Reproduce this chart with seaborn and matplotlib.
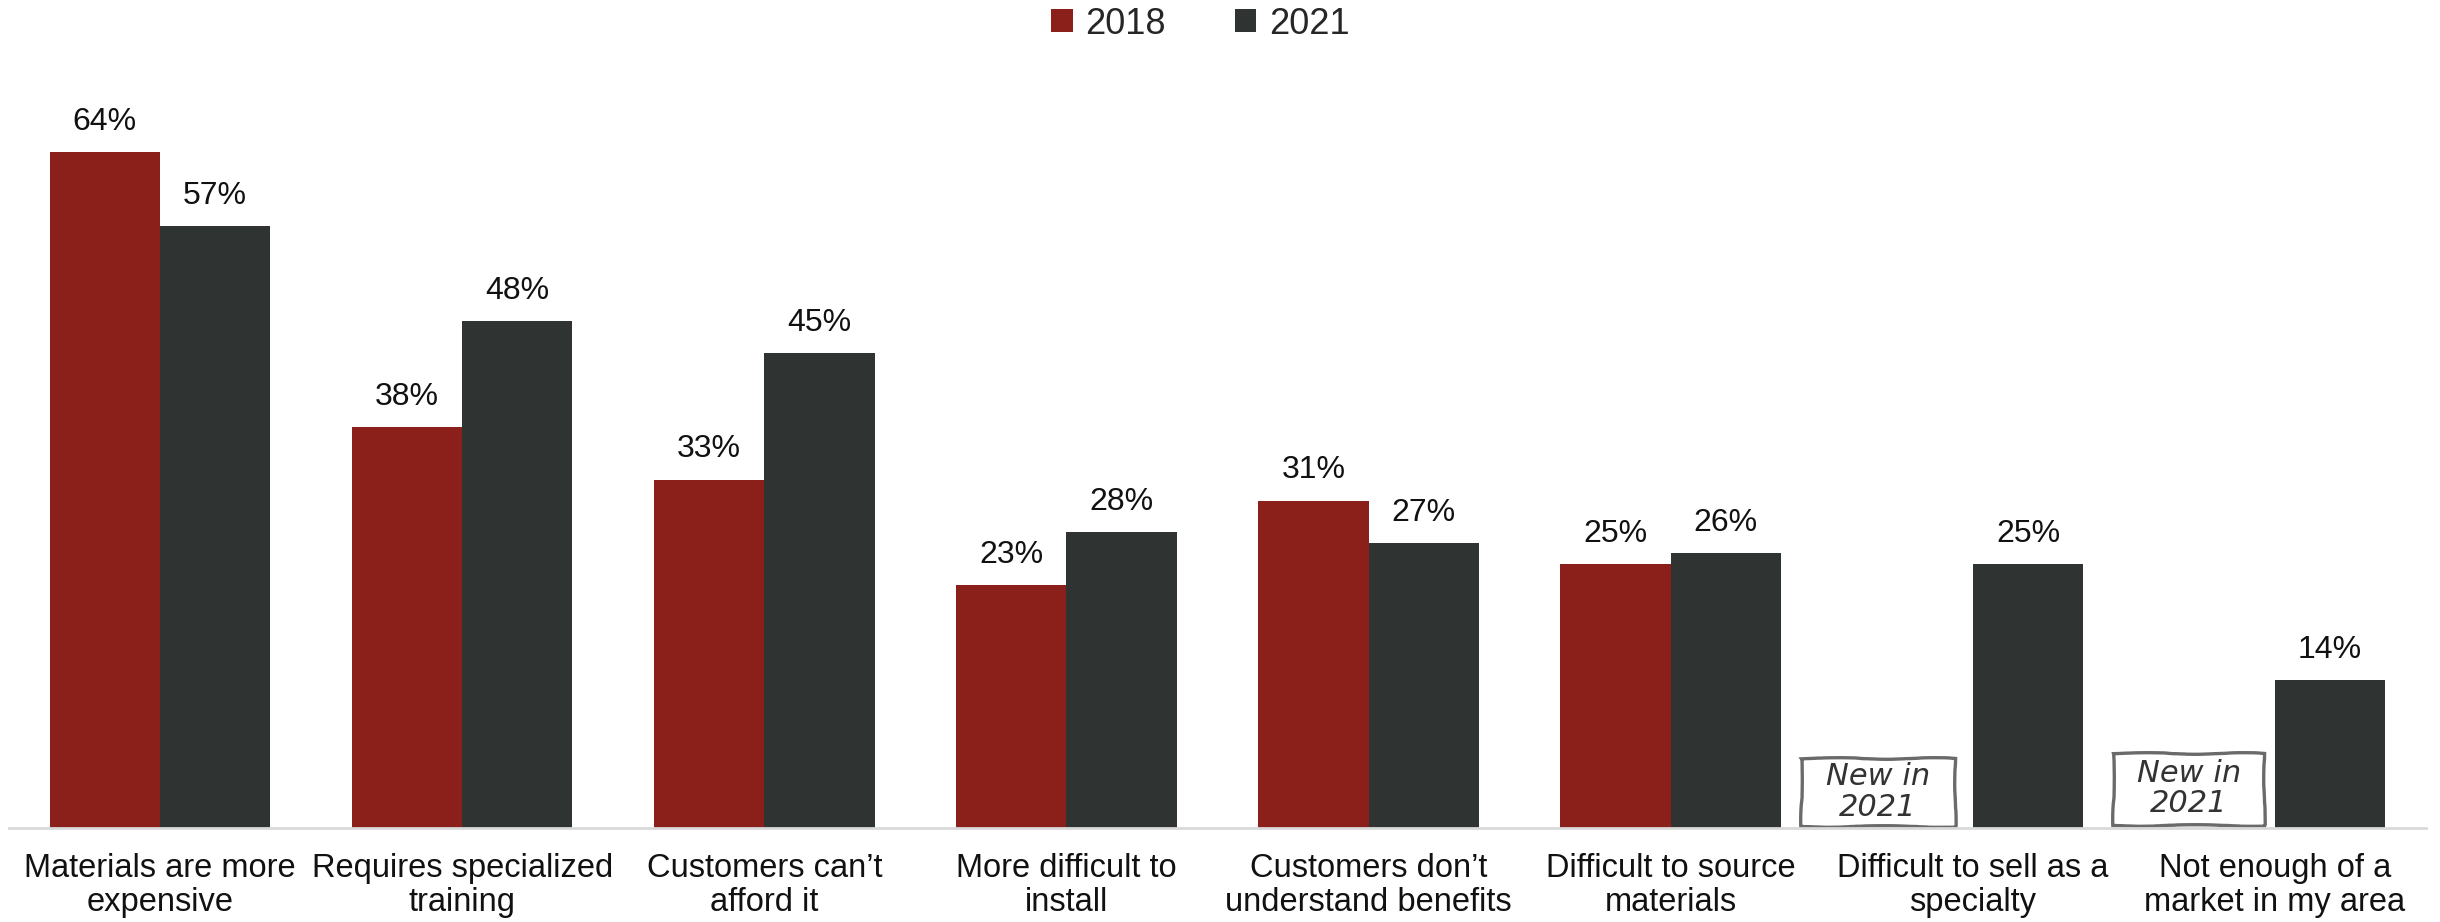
import matplotlib
matplotlib.use("Agg")
import matplotlib.pyplot as plt
from matplotlib.patches import Rectangle, Patch
import numpy as np
import pandas as pd
import seaborn as sns

categories = [
    "Materials are more\nexpensive",
    "Requires specialized\ntraining",
    "Customers can\u2019t\nafford it",
    "More difficult to\ninstall",
    "Customers don\u2019t\nunderstand benefits",
    "Difficult to source\nmaterials",
    "Difficult to sell as a\nspecialty",
    "Not enough of a\nmarket in my area",
]
years = ["2018", "2021"]
values_2018 = [64, 38, 33, 23, 31, 25, np.nan, np.nan]
values_2021 = [57, 48, 45, 28, 27, 26, 25, 14]
colors = ["#8B201B", "#2F3432"]

df = pd.DataFrame({
    "category": categories * 2,
    "year": [years[0]] * len(categories) + [years[1]] * len(categories),
    "value": values_2018 + values_2021,
})

sns.set_theme(style="white")
plt.rcParams["font.family"] = ["Liberation Sans", "DejaVu Sans"]

fig = plt.figure(figsize=(24.4, 9.22), dpi=100)
ax = fig.add_axes([9 / 2440, 0.102, (2426 - 9) / 2440, 0.8015])

sns.barplot(
    data=df.dropna(), x="category", y="value", hue="year",
    order=categories, hue_order=years, palette=colors,
    width=0.73, gap=0, saturation=1, errorbar=None, ax=ax, legend=False,
    linewidth=0, edgecolor="none",
)

for cont in ax.containers:
    ax.bar_label(cont, fmt="%.0f%%", padding=11, fontsize=23, color="#111111")

ax.set_xlim(-0.5, len(categories) - 0.5)
ax.set_ylim(0, 70)
ax.set_xlabel("")
ax.set_ylabel("")
ax.set_yticks([])
ax.tick_params(axis="x", length=0, pad=18, labelsize=23.5, labelcolor="#111111")
for lab in ax.get_xticklabels():
    lab.set_linespacing(1.12)
for s in ["top", "left", "right"]:
    ax.spines[s].set_visible(False)
ax.spines["bottom"].set_color("#d9d9d9")
ax.spines["bottom"].set_linewidth(2)

# "New in 2021" tags in the empty 2018 slots
for cx, w, y0, y1 in [(5.685, 0.51, 0.2, 6.6), (6.715, 0.50, 0.3, 7.1)]:
    rect = Rectangle((cx - w / 2, y0), w, y1 - y0, fill=False,
                     edgecolor="#6a6a6a", linewidth=2.4, clip_on=False)
    rect.set_sketch_params(scale=0.8, length=180, randomness=6)
    ax.add_patch(rect)
    ax.text(cx, (y0 + y1) / 2, "New in\n2021", ha="center", va="center",
            fontsize=22, style="italic", color="#333333",
            family=["DejaVu Sans"], linespacing=1.05)

handles = [Patch(facecolor=c, edgecolor="none") for c in colors]
fig.legend(handles, years, loc="center", bbox_to_anchor=(0.492, 1 - 24 / 922),
           ncol=2, frameon=False, fontsize=26, handlelength=0.6,
           handleheight=0.6, handletextpad=0.35, columnspacing=1.9)

fig.savefig("out.png", dpi=100, facecolor="white")
